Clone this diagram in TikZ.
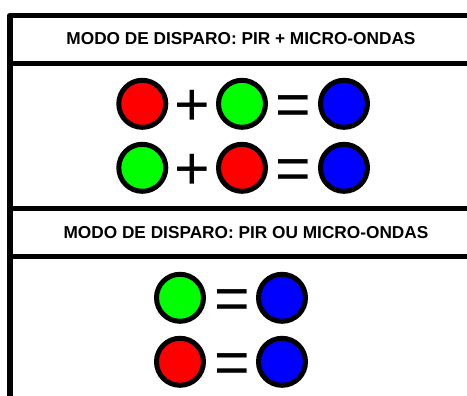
\documentclass[tikz,border=0pt]{standalone}
\usepackage{fontspec}
\setmainfont{Liberation Sans}
\begin{document}
\begin{tikzpicture}[x=1pt,y=-1pt,
  frame/.style={line width=5.5pt,line join=round,line cap=butt},
  dot/.style={circle,draw=black,line width=5pt,minimum size=47pt,inner sep=0pt},
  rdot/.style={dot,fill={rgb,255:red,255;green,0;blue,0}},
  gdot/.style={dot,fill={rgb,255:red,0;green,255;blue,0}},
  bdot/.style={dot,fill={rgb,255:red,0;green,0;blue,255}},
  sym/.style={anchor=base,inner sep=0pt,font=\fontsize{61}{61}\selectfont},
  title/.style={inner sep=0pt,font=\bfseries\fontsize{17.25}{20}\selectfont}]
\useasboundingbox (0,0) rectangle (467,396);
\begin{scope}
\clip (0,0) rectangle (467,396);
\coordinate (tr) at (475,15.3);
\coordinate (tl) at (10,15.3);
\coordinate (bl) at (10,400);
\draw[frame] (tr) -- (tl) -- (bl);
\coordinate (h1l) at (10,63.7);
\coordinate (h1r) at (475,63.7);
\coordinate (h2l) at (10,208.5);
\coordinate (h2r) at (475,208.5);
\coordinate (h3l) at (10,256.5);
\coordinate (h3r) at (475,256.5);
\draw[frame] (h1l) -- (h1r);
\draw[frame] (h2l) -- (h2r);
\draw[frame] (h3l) -- (h3r);
\end{scope}
\node[title] (t1) at (241,38.8) {MODO DE DISPARO: PIR + MICRO-ONDAS};
\node[title] (t2) at (246,233) {MODO DE DISPARO: PIR OU MICRO-ONDAS};
% row 1
\node[rdot] (a1) at (142.3,103.8) {};
\node[sym] (p1) at (192.5,125.4) {+};
\node[gdot] (a2) at (242,103.8) {};
\node[sym] (e1) at (293,125.4) {=};
\node[bdot] (a3) at (344,103.8) {};
% row 2
\node[gdot] (b1) at (142.3,167.8) {};
\node[sym] (p2) at (192.5,189.4) {+};
\node[rdot] (b2) at (242,167.8) {};
\node[sym] (e2) at (293,189.4) {=};
\node[bdot] (b3) at (344,167.8) {};
% row 3
\node[gdot] (c1) at (180,297.8) {};
\node[sym] (e3) at (232,319.4) {=};
\node[bdot] (c2) at (282,297.8) {};
% row 4
\node[rdot] (d1) at (180,361.8) {};
\node[sym] (e4) at (232,383.4) {=};
\node[bdot] (d2) at (282,361.8) {};
\end{tikzpicture}
\end{document}
